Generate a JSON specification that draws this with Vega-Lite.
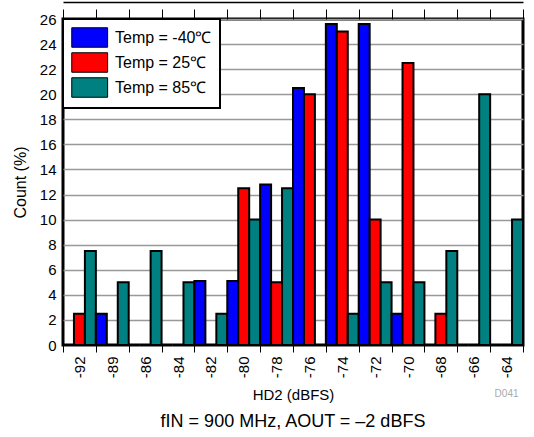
{
  "$schema": "https://vega.github.io/schema/vega-lite/v6.json",
  "width": 460,
  "height": 326,
  "autosize": {"type": "none"},
  "padding": {"left": 63, "top": 19, "right": 11, "bottom": 92},
  "background": "white",
  "config": {
    "font": "Liberation Sans",
    "view": {"stroke": "black", "strokeWidth": 3},
    "axis": {"labelColor": "black", "titleColor": "black", "labelFont": "Liberation Sans", "titleFont": "Liberation Sans", "titleFontWeight": "normal"}
  },
  "title": {"text": "fIN = 900 MHz, AOUT = –2 dBFS", "orient": "bottom", "fontSize": 18, "fontWeight": "normal", "font": "Liberation Sans", "color": "black", "offset": 10, "anchor": "middle"},
  "data": {"values": [
    {"hd2": "-92", "temp": "Temp = -40℃", "count": 0},
    {"hd2": "-92", "temp": "Temp = 25℃", "count": 2.5},
    {"hd2": "-92", "temp": "Temp = 85℃", "count": 7.5},
    {"hd2": "-89", "temp": "Temp = -40℃", "count": 2.5},
    {"hd2": "-89", "temp": "Temp = 25℃", "count": 0},
    {"hd2": "-89", "temp": "Temp = 85℃", "count": 5},
    {"hd2": "-86", "temp": "Temp = -40℃", "count": 0},
    {"hd2": "-86", "temp": "Temp = 25℃", "count": 0},
    {"hd2": "-86", "temp": "Temp = 85℃", "count": 7.5},
    {"hd2": "-84", "temp": "Temp = -40℃", "count": 0},
    {"hd2": "-84", "temp": "Temp = 25℃", "count": 0},
    {"hd2": "-84", "temp": "Temp = 85℃", "count": 5},
    {"hd2": "-82", "temp": "Temp = -40℃", "count": 5.1},
    {"hd2": "-82", "temp": "Temp = 25℃", "count": 0},
    {"hd2": "-82", "temp": "Temp = 85℃", "count": 2.5},
    {"hd2": "-80", "temp": "Temp = -40℃", "count": 5.1},
    {"hd2": "-80", "temp": "Temp = 25℃", "count": 12.5},
    {"hd2": "-80", "temp": "Temp = 85℃", "count": 10},
    {"hd2": "-78", "temp": "Temp = -40℃", "count": 12.8},
    {"hd2": "-78", "temp": "Temp = 25℃", "count": 5},
    {"hd2": "-78", "temp": "Temp = 85℃", "count": 12.5},
    {"hd2": "-76", "temp": "Temp = -40℃", "count": 20.5},
    {"hd2": "-76", "temp": "Temp = 25℃", "count": 20},
    {"hd2": "-76", "temp": "Temp = 85℃", "count": 0},
    {"hd2": "-74", "temp": "Temp = -40℃", "count": 25.6},
    {"hd2": "-74", "temp": "Temp = 25℃", "count": 25},
    {"hd2": "-74", "temp": "Temp = 85℃", "count": 2.5},
    {"hd2": "-72", "temp": "Temp = -40℃", "count": 25.6},
    {"hd2": "-72", "temp": "Temp = 25℃", "count": 10},
    {"hd2": "-72", "temp": "Temp = 85℃", "count": 5},
    {"hd2": "-70", "temp": "Temp = -40℃", "count": 2.5},
    {"hd2": "-70", "temp": "Temp = 25℃", "count": 22.5},
    {"hd2": "-70", "temp": "Temp = 85℃", "count": 5},
    {"hd2": "-68", "temp": "Temp = -40℃", "count": 0},
    {"hd2": "-68", "temp": "Temp = 25℃", "count": 2.5},
    {"hd2": "-68", "temp": "Temp = 85℃", "count": 7.5},
    {"hd2": "-66", "temp": "Temp = -40℃", "count": 0},
    {"hd2": "-66", "temp": "Temp = 25℃", "count": 0},
    {"hd2": "-66", "temp": "Temp = 85℃", "count": 20},
    {"hd2": "-64", "temp": "Temp = -40℃", "count": 0},
    {"hd2": "-64", "temp": "Temp = 25℃", "count": 0},
    {"hd2": "-64", "temp": "Temp = 85℃", "count": 10}
  ]},
  "layer": [
    {
      "mark": {"type": "bar", "stroke": "black", "strokeWidth": 2},
      "encoding": {
        "x": {"field": "hd2", "type": "nominal",
              "sort": ["-92", "-89", "-86", "-84", "-82", "-80", "-78", "-76", "-74", "-72", "-70", "-68", "-66", "-64"],
              "scale": {"paddingInner": 0, "paddingOuter": 0},
              "axis": {"orient": "bottom", "tickBand": "extent", "labelAngle": -90, "labelFontSize": 15, "tickSize": 7, "tickColor": "black", "tickWidth": 1, "domain": false, "grid": false, "title": "HD2 (dBFS)", "titleFontSize": 15, "labelPadding": 4, "titlePadding": 10}},
        "xOffset": {"field": "temp", "type": "nominal", "sort": ["Temp = -40℃", "Temp = 25℃", "Temp = 85℃"], "scale": {"paddingInner": 0, "paddingOuter": 0}},
        "y": {"field": "count", "type": "quantitative",
              "scale": {"domain": [0, 26], "nice": false},
              "axis": {"values": [0, 2, 4, 6, 8, 10, 12, 14, 16, 18, 20, 22, 24, 26], "labelOverlap": false, "grid": true, "gridColor": "#999999", "gridWidth": 1.5, "ticks": false, "domain": false, "labelFontSize": 15, "title": "Count (%)", "titleFontSize": 16, "labelPadding": 7, "titlePadding": 11}},
        "color": {"field": "temp", "type": "nominal", "sort": ["Temp = -40℃", "Temp = 25℃", "Temp = 85℃"],
                  "scale": {"range": ["#0000FF", "#FF0000", "#008080"]},
                  "legend": {"title": null, "orient": "top-left", "offset": 0, "fillColor": "white", "strokeColor": "black", "padding": 8, "symbolType": "M-1,-1H2.68V1H-1Z", "symbolSize": 380, "symbolStrokeColor": "black", "symbolStrokeWidth": 1, "symbolOpacity": 1, "labelFontSize": 16, "labelColor": "black", "labelFont": "Liberation Sans", "rowPadding": 0, "labelOffset": 23,
                             "encode": {"legend": {"update": {"strokeWidth": {"value": 2}}}}}}
      }
    },
    {
      "mark": {"type": "bar", "opacity": 0},
      "encoding": {
        "x": {"field": "hd2", "type": "nominal",
              "sort": ["-92", "-89", "-86", "-84", "-82", "-80", "-78", "-76", "-74", "-72", "-70", "-68", "-66", "-64"],
              "axis": {"orient": "top", "tickBand": "extent", "labels": false, "domain": false, "ticks": true, "tickSize": 10, "tickColor": "black", "tickWidth": 1, "title": null, "grid": false}}
      }
    },
    {
      "mark": {"type": "bar", "opacity": 0},
      "encoding": {
        "x": {"field": "hd2", "type": "nominal",
              "sort": ["-92", "-89", "-86", "-84", "-82", "-80", "-78", "-76", "-74", "-72", "-70", "-68", "-66", "-64"],
              "axis": {"orient": "top", "offset": 17, "labels": false, "domain": true, "domainColor": "black", "domainWidth": 1.5, "ticks": false, "title": null, "grid": false}}
      }
    },
    {
      "data": {"values": [{"note": "D041", "hd2": "-64", "count": 0}]},
      "mark": {"type": "text", "color": "#aaaaaa", "fontSize": 10, "dy": 49, "font": "Liberation Sans"},
      "encoding": {
        "text": {"field": "note"},
        "x": {"field": "hd2", "type": "nominal",
              "sort": ["-92", "-89", "-86", "-84", "-82", "-80", "-78", "-76", "-74", "-72", "-70", "-68", "-66", "-64"],
              "axis": null},
        "y": {"field": "count", "type": "quantitative", "axis": null}
      }
    }
  ],
  "resolve": {"axis": {"x": "independent", "y": "independent"}}
}
